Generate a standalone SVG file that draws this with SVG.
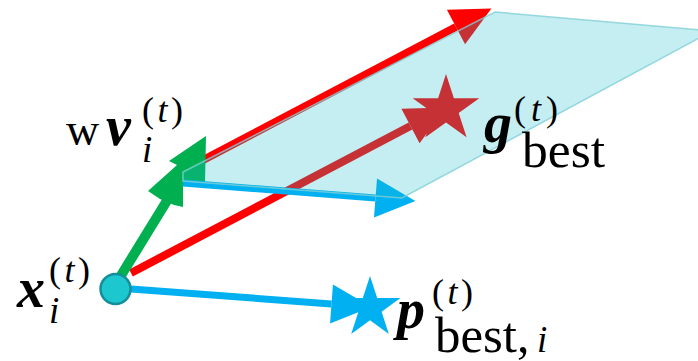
<svg xmlns="http://www.w3.org/2000/svg" width="698" height="361" viewBox="0 0 698 361">
<style>
.red{stroke:#ff0000;stroke-width:8;fill:none}
.blue{stroke:#00b0f0;stroke-width:7;fill:none}
.green{stroke:#00b050;stroke-width:10;fill:none}
.plane{fill:#1ebecd;fill-opacity:0.26;stroke:#7fcfd6;stroke-opacity:0.8;stroke-width:1.5}
.m{font-family:"Liberation Serif","Times New Roman",serif;fill:#000}
.bi{font-weight:bold;font-style:italic;font-size:56px}
.it{font-style:italic;font-size:37px}
.sup{font-size:36px}
.sub{font-size:50px}
</style>
<defs>
<marker id="ah-red" markerUnits="userSpaceOnUse" viewBox="0 0 41 40" markerWidth="41" markerHeight="40" refX="0" refY="19.5" orient="auto" overflow="visible"><path d="M0,0 L40,19.5 L0,39 z" fill="#ff0000"/></marker>
<marker id="ah-blue" markerUnits="userSpaceOnUse" viewBox="0 0 41 40" markerWidth="41" markerHeight="40" refX="0" refY="19.5" orient="auto" overflow="visible"><path d="M0,0 L40,19.5 L0,39 z" fill="#00b0f0"/></marker>
</defs>
<g id="connectors">
<line class="red" x1="184" y1="170" x2="456" y2="27" marker-end="url(#ah-red)"/>
<line class="red" x1="131" y1="273" x2="410.5" y2="126" marker-end="url(#ah-red)"/>
<line class="green" x1="117" y1="282" x2="168" y2="199"/>
<polygon fill="#00b050" points="206,136 169,161 177,165 148,191 160,199 174,205 183,207 183,183 205,183"/>
<line class="blue" x1="183" y1="183" x2="375.5" y2="198" marker-end="url(#ah-blue)"/>
<line class="blue" x1="131" y1="289" x2="331.5" y2="304" marker-end="url(#ah-blue)"/>
</g>
<g id="gbest">
<polygon fill="#ff0000" points="446,74 453.9,98.2 479.3,98.2 458.7,113.1 466.6,137.3 446,122.4 425.4,137.3 433.3,113.1 412.7,98.2 438.1,98.2"/>
</g>
<g id="pbest">
<polygon fill="#00b0f0" points="370,276 377.2,298.1 400.4,298.1 381.6,311.8 388.8,333.9 370,320.2 351.2,333.9 358.4,311.8 339.6,298.1 362.8,298.1"/>
</g>
<g id="plane">
<polygon class="plane" points="183,172 495,12 712,31 402,198 183,181"/>
</g>
<g id="particle">
<circle cx="115.5" cy="289" r="15" fill="#1cc7d0" stroke="#138f99" stroke-width="2.5"/>
</g>
<g id="label-velocity" class="m">
<text x="66" y="145" font-size="46">w</text>
<text x="106" y="145" class="bi">v</text>
<text x="142" y="162" class="it">i</text>
<text x="142" y="122" class="sup" textLength="41" lengthAdjust="spacing">(<tspan font-style="italic">t</tspan>)</text>
</g>
<g id="label-gbest" class="m">
<text x="484" y="142" class="bi">g</text>
<text x="514" y="121" class="sup" textLength="44" lengthAdjust="spacing">(<tspan font-style="italic">t</tspan>)</text>
<text x="522" y="167" class="sub" textLength="83" lengthAdjust="spacingAndGlyphs">best</text>
</g>
<g id="label-x" class="m">
<text x="17" y="307" class="bi">x</text>
<text x="49" y="323" class="it">i</text>
<text x="49" y="282" class="sup" textLength="41" lengthAdjust="spacing">(<tspan font-style="italic">t</tspan>)</text>
</g>
<g id="label-pbest" class="m">
<text x="397" y="328" class="bi">p</text>
<text x="432" y="304" class="sup" textLength="41" lengthAdjust="spacing">(<tspan font-style="italic">t</tspan>)</text>
<text x="435" y="352" class="sub" textLength="82" lengthAdjust="spacingAndGlyphs">best</text>
<text x="517" y="352" class="sub">,</text>
<text x="537" y="352" class="it">i</text>
</g>
</svg>
